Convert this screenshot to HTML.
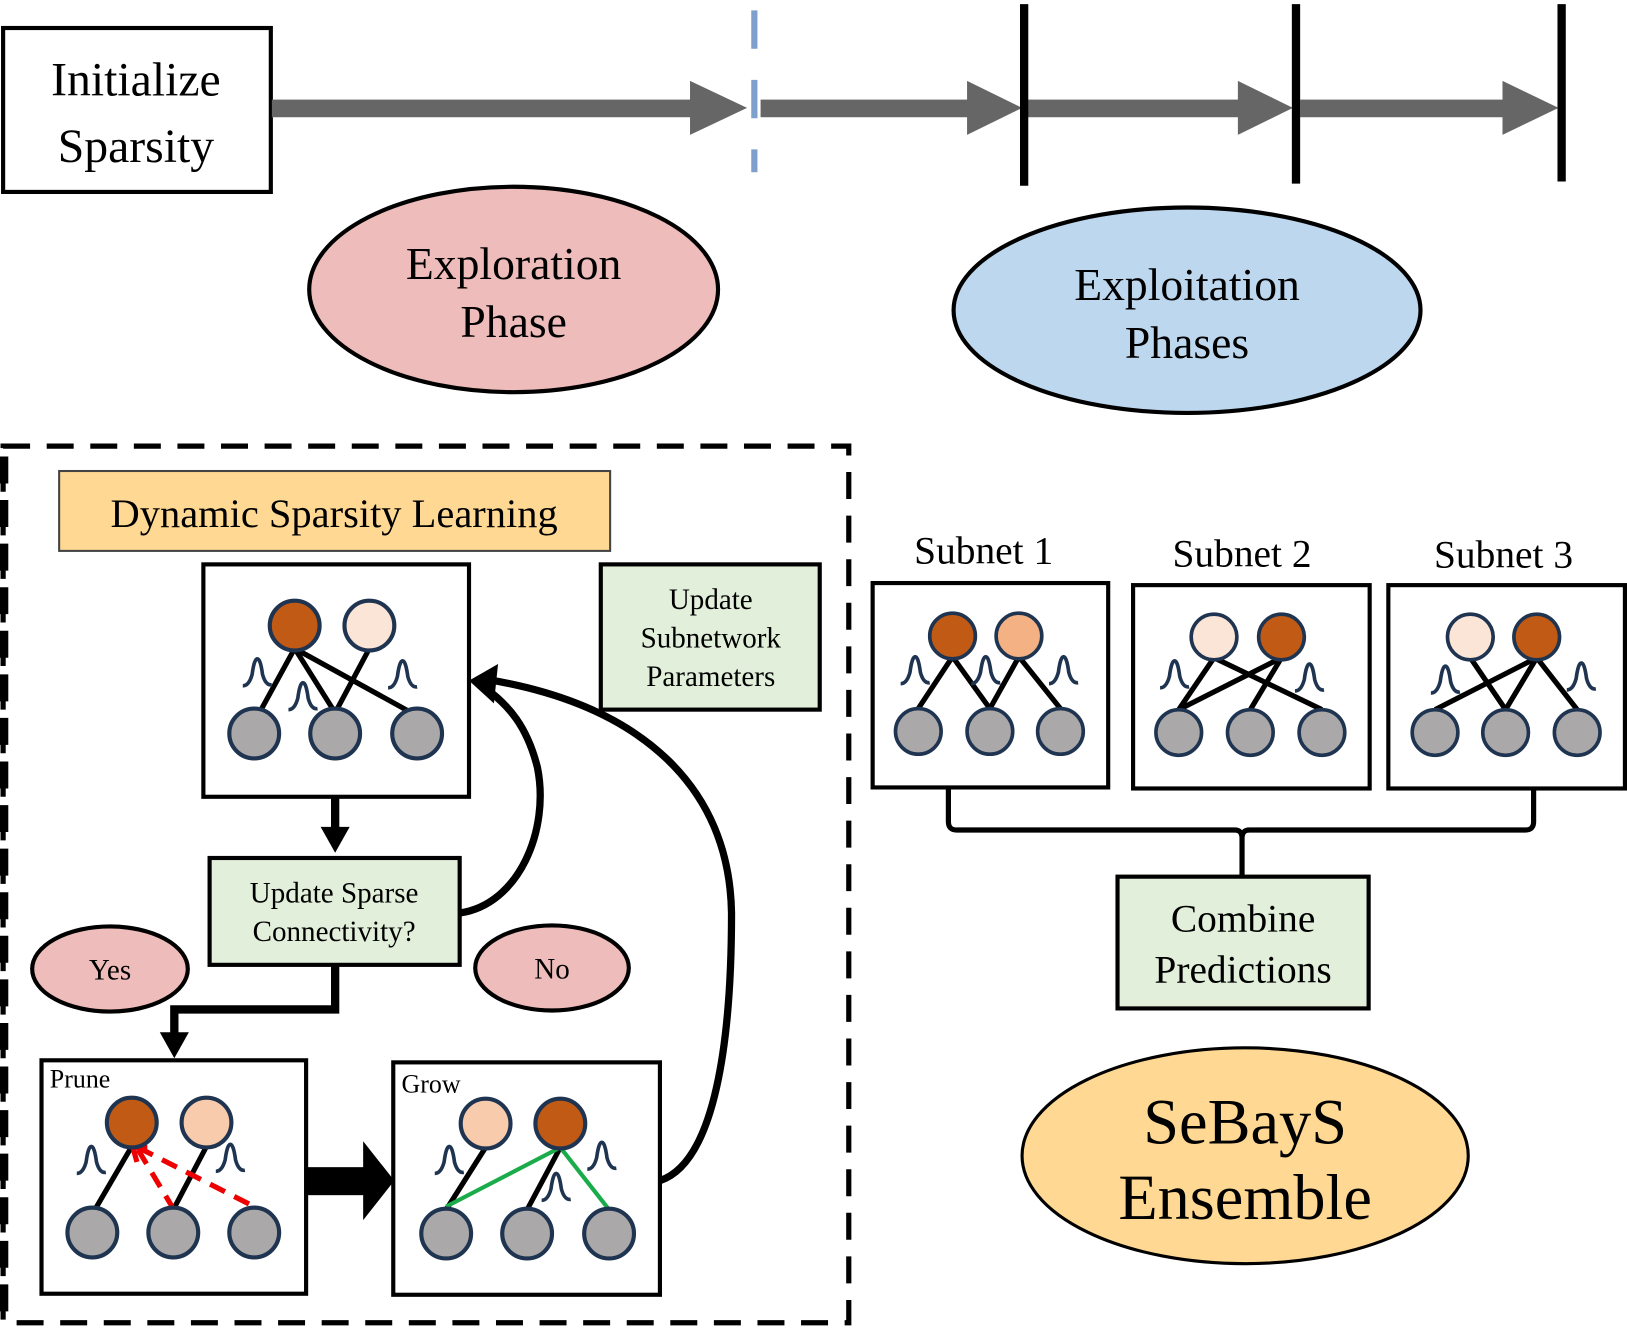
<!DOCTYPE html>
<html><head><meta charset="utf-8"><style>
html,body{margin:0;padding:0;background:#fff;}
svg{display:block;}
text{font-family:"Liberation Serif",serif;fill:#000;}
</style></head><body>
<svg width="1627" height="1329" viewBox="0 0 1568 1281" preserveAspectRatio="none" xmlns="http://www.w3.org/2000/svg">
<defs>
<path id="sq" d="M-14,11 Q-8,11 -5,0 Q-3,-15 0,-15 Q3,-15 5,0 Q8,11 14,10" fill="none" stroke="#1f3450" stroke-width="3.5"/>
</defs>
<rect width="1568" height="1281" fill="#fff"/>

<!-- Initialize -->
<rect x="3" y="27" width="258" height="158" fill="#fff" stroke="#000" stroke-width="4"/>
<text x="131" y="92" font-size="46" text-anchor="middle">Initialize</text>
<text x="131" y="156" font-size="46" text-anchor="middle">Sparsity</text>

<!-- timeline arrows -->
<g fill="#666">
<rect x="262" y="96" width="406" height="17"/>
<polygon points="665,78 720,104 665,130"/>
<rect x="733" y="96" width="202" height="17"/>
<polygon points="932,78 985,104 932,130"/>
<rect x="990" y="96" width="206" height="17"/>
<polygon points="1193,78 1246,104 1193,130"/>
<rect x="1253" y="96" width="198" height="17"/>
<polygon points="1448,78 1502,104 1448,130"/>
</g>
<line x1="727" y1="10" x2="727" y2="166" stroke="#7f9fcc" stroke-width="6" stroke-dasharray="37,30"/>
<g stroke="#000" stroke-width="8">
<line x1="987" y1="4" x2="987" y2="179"/>
<line x1="1249" y1="4" x2="1249" y2="177"/>
<line x1="1505" y1="4" x2="1505" y2="175"/>
</g>

<!-- phase ellipses -->
<ellipse cx="495" cy="279" rx="197" ry="99" fill="#eebcba" stroke="#000" stroke-width="4"/>
<text x="495" y="269" font-size="44" text-anchor="middle">Exploration</text>
<text x="495" y="325" font-size="44" text-anchor="middle">Phase</text>
<ellipse cx="1144" cy="299" rx="225" ry="99" fill="#bdd7ee" stroke="#000" stroke-width="4"/>
<text x="1144" y="289" font-size="44" text-anchor="middle">Exploitation</text>
<text x="1144" y="345" font-size="44" text-anchor="middle">Phases</text>

<!-- dashed container -->
<rect x="3" y="430" width="815" height="845" fill="none" stroke="#000" stroke-width="5" stroke-dasharray="26,16"/>
<line x1="4" y1="440" x2="4" y2="1270" stroke="#000" stroke-width="8" stroke-dasharray="26,16"/>

<rect x="57" y="454" width="531" height="77" fill="#ffd993" stroke="#444" stroke-width="2"/>
<text x="322" y="508" font-size="39" text-anchor="middle">Dynamic Sparsity Learning</text>

<!-- top network -->
<rect x="196" y="544" width="256" height="224" fill="#fff" stroke="#000" stroke-width="4"/>
<g stroke="#000" stroke-width="5">
<line x1="284" y1="625" x2="250" y2="687"/>
<line x1="284" y1="625" x2="323" y2="687"/>
<line x1="284" y1="625" x2="402" y2="690"/>
<line x1="356" y1="625" x2="323" y2="687"/>
</g>
<g stroke="#1f3450" stroke-width="4">
<circle cx="284" cy="603" r="24" fill="#c05a15"/>
<circle cx="356" cy="603" r="24" fill="#fbe5d6"/>
<circle cx="245" cy="707" r="24" fill="#aaa8a8"/>
<circle cx="323" cy="707" r="24" fill="#aaa8a8"/>
<circle cx="402" cy="707" r="24" fill="#aaa8a8"/>
</g>
<use href="#sq" x="248" y="650"/><use href="#sq" x="292" y="673"/><use href="#sq" x="388" y="652"/>

<rect x="579" y="544" width="211" height="140" fill="#e2efda" stroke="#000" stroke-width="4"/>
<text x="685" y="587" font-size="28" text-anchor="middle">Update</text>
<text x="685" y="624" font-size="28" text-anchor="middle">Subnetwork</text>
<text x="685" y="661" font-size="28" text-anchor="middle">Parameters</text>

<!-- down arrow -->
<line x1="323" y1="768" x2="323" y2="800" stroke="#000" stroke-width="8"/>
<polygon points="309,797 337,797 323,822" fill="#000"/>

<rect x="202" y="827" width="241" height="103" fill="#e2efda" stroke="#000" stroke-width="4"/>
<text x="322" y="870" font-size="28" text-anchor="middle">Update Sparse</text>
<text x="322" y="907" font-size="28" text-anchor="middle">Connectivity?</text>

<ellipse cx="106" cy="934" rx="75" ry="41" fill="#eebcba" stroke="#000" stroke-width="4"/>
<text x="106" y="944" font-size="28" text-anchor="middle">Yes</text>
<ellipse cx="532" cy="933" rx="74" ry="41" fill="#eebcba" stroke="#000" stroke-width="4"/>
<text x="532" y="943" font-size="28" text-anchor="middle">No</text>

<!-- elbow -->
<polyline points="323,930 323,973 168,973 168,998" fill="none" stroke="#000" stroke-width="8"/>
<polygon points="154,995 182,995 168,1020" fill="#000"/>

<!-- curves -->
<path d="M443,880 C500,872 530,800 518,740 C508,700 490,680 470,665" fill="none" stroke="#000" stroke-width="7"/>
<path d="M636,1138 C690,1120 705,1000 705,880 C703,760 620,680 470,655" fill="none" stroke="#000" stroke-width="7"/>
<polygon points="452,656 480,640 476,678" fill="#000"/>

<!-- prune -->
<rect x="40" y="1022" width="255" height="225" fill="#fff" stroke="#000" stroke-width="4"/>
<text x="48" y="1048" font-size="25">Prune</text>
<g stroke="#000" stroke-width="5">
<line x1="127" y1="1105" x2="92" y2="1165"/>
<line x1="199" y1="1105" x2="167" y2="1166"/>
</g>
<g stroke="#e00" stroke-width="5" stroke-dasharray="16,10">
<line x1="133" y1="1108" x2="167" y2="1165"/>
<line x1="133" y1="1106" x2="245" y2="1163"/>
</g>
<polyline points="132,1120 128,1106 142,1106" fill="none" stroke="#e00" stroke-width="5"/>
<g stroke="#1f3450" stroke-width="4">
<circle cx="127" cy="1082" r="24" fill="#c05a15"/>
<circle cx="199" cy="1082" r="24" fill="#f8cbad"/>
<circle cx="89" cy="1188" r="24" fill="#aaa8a8"/>
<circle cx="167" cy="1188" r="24" fill="#aaa8a8"/>
<circle cx="245" cy="1188" r="24" fill="#aaa8a8"/>
</g>
<use href="#sq" x="88" y="1120"/><use href="#sq" x="222" y="1118"/>

<!-- big arrow -->
<rect x="295" y="1125" width="58" height="27" fill="#000"/>
<polygon points="350,1100 380,1138 350,1176" fill="#000"/>

<!-- grow -->
<rect x="379" y="1024" width="257" height="224" fill="#fff" stroke="#000" stroke-width="4"/>
<text x="387" y="1053" font-size="25">Grow</text>
<g stroke="#000" stroke-width="5">
<line x1="468" y1="1106" x2="430" y2="1166"/>
<line x1="540" y1="1106" x2="508" y2="1166"/>
</g>
<g stroke="#1aab4a" stroke-width="4">
<line x1="540" y1="1106" x2="430" y2="1163"/>
<line x1="540" y1="1106" x2="587" y2="1166"/>
</g>
<g stroke="#1f3450" stroke-width="4">
<circle cx="468" cy="1083" r="24" fill="#f8cbad"/>
<circle cx="540" cy="1083" r="24" fill="#c05a15"/>
<circle cx="430" cy="1189" r="24" fill="#aaa8a8"/>
<circle cx="508" cy="1189" r="24" fill="#aaa8a8"/>
<circle cx="587" cy="1189" r="24" fill="#aaa8a8"/>
</g>
<use href="#sq" x="433" y="1120"/><use href="#sq" x="536" y="1146"/><use href="#sq" x="580" y="1116"/>

<!-- subnets -->
<text x="948" y="543" font-size="38" text-anchor="middle">Subnet 1</text>
<text x="1197" y="546" font-size="38" text-anchor="middle">Subnet 2</text>
<text x="1449" y="547" font-size="38" text-anchor="middle">Subnet 3</text>
<g fill="#fff" stroke="#000" stroke-width="4">
<rect x="841" y="562" width="227" height="197"/>
<rect x="1092" y="564" width="228" height="196"/>
<rect x="1338" y="564" width="228" height="196"/>
</g>
<g stroke="#000" stroke-width="5">
<line x1="918" y1="633" x2="885" y2="683"/><line x1="918" y1="633" x2="954" y2="683"/>
<line x1="982" y1="633" x2="954" y2="683"/><line x1="982" y1="633" x2="1022" y2="683"/>
<line x1="1170" y1="634" x2="1136" y2="684"/><line x1="1170" y1="634" x2="1274" y2="684"/>
<line x1="1235" y1="634" x2="1136" y2="684"/><line x1="1235" y1="634" x2="1205" y2="684"/>
<line x1="1417" y1="634" x2="1451" y2="684"/><line x1="1481" y1="634" x2="1383" y2="684"/>
<line x1="1481" y1="634" x2="1451" y2="684"/><line x1="1481" y1="634" x2="1520" y2="684"/>
</g>
<g stroke="#1f3450" stroke-width="3.5">
<circle cx="918" cy="613" r="22" fill="#c05a15"/><circle cx="982" cy="613" r="22" fill="#f4b183"/>
<circle cx="885" cy="705" r="22" fill="#aaa8a8"/><circle cx="954" cy="705" r="22" fill="#aaa8a8"/><circle cx="1022" cy="705" r="22" fill="#aaa8a8"/>
<circle cx="1170" cy="614" r="22" fill="#fbe5d6"/><circle cx="1235" cy="614" r="22" fill="#c05a15"/>
<circle cx="1136" cy="706" r="22" fill="#aaa8a8"/><circle cx="1205" cy="706" r="22" fill="#aaa8a8"/><circle cx="1274" cy="706" r="22" fill="#aaa8a8"/>
<circle cx="1417" cy="614" r="22" fill="#fbe5d6"/><circle cx="1481" cy="614" r="22" fill="#c05a15"/>
<circle cx="1383" cy="706" r="22" fill="#aaa8a8"/><circle cx="1451" cy="706" r="22" fill="#aaa8a8"/><circle cx="1520" cy="706" r="22" fill="#aaa8a8"/>
</g>
<use href="#sq" x="882" y="648"/><use href="#sq" x="950" y="648"/><use href="#sq" x="1025" y="648"/>
<use href="#sq" x="1132" y="652"/><use href="#sq" x="1262" y="655"/>
<use href="#sq" x="1393" y="657"/><use href="#sq" x="1524" y="654"/>

<!-- bracket -->
<path d="M914,760 V792 Q914,800 922,800 H1190 Q1197,800 1197,808 V845 M1197,808 Q1197,800 1204,800 H1470 Q1478,800 1478,792 V760" fill="none" stroke="#000" stroke-width="5"/>

<rect x="1077" y="845" width="242" height="127" fill="#e2efda" stroke="#000" stroke-width="4"/>
<text x="1198" y="898" font-size="38" text-anchor="middle">Combine</text>
<text x="1198" y="947" font-size="38" text-anchor="middle">Predictions</text>

<ellipse cx="1200" cy="1114" rx="215" ry="104" fill="#ffd993" stroke="#000" stroke-width="3"/>
<text x="1200" y="1102" font-size="62" text-anchor="middle">SeBayS</text>
<text x="1200" y="1175" font-size="62" text-anchor="middle">Ensemble</text>
</svg>
</body></html>
